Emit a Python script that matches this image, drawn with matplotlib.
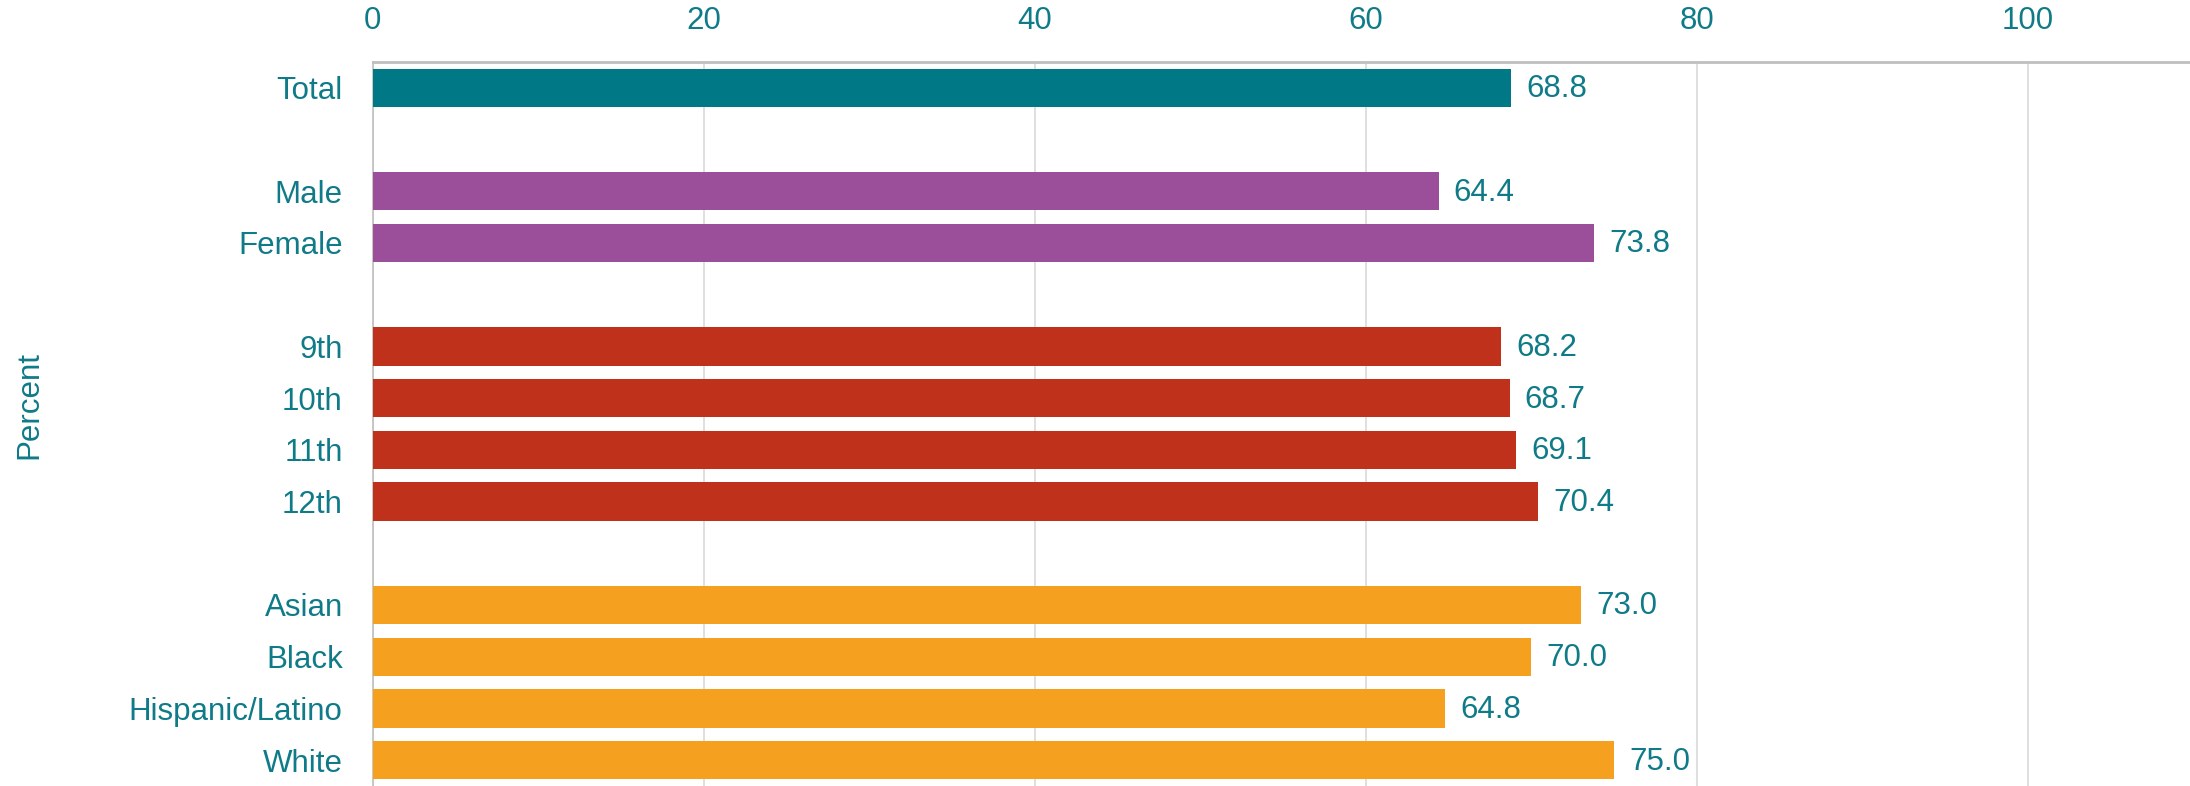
import matplotlib.pyplot as plt
import numpy as np

plt.rcParams['font.family'] = ['Liberation Sans', 'DejaVu Sans']

# data, blank rows separate the groups
labels = ["Total", "", "Male", "Female", "", "9th", "10th", "11th", "12th", "",
          "Asian", "Black", "Hispanic/Latino", "White"]
values = [68.8, None, 64.4, 73.8, None, 68.2, 68.7, 69.1, 70.4, None,
          73.0, 70.0, 64.8, 75.0]
groups = ["total", None, "sex", "sex", None, "grade", "grade", "grade", "grade", None,
          "race", "race", "race", "race"]

group_colors = {"total": "#007886", "sex": "#9B4F9B", "grade": "#C0311B", "race": "#F5A01E"}
text_color = "#0F7B88"

fig = plt.figure(figsize=(21.9, 7.86), dpi=100)
ax = fig.add_axes([372.7 / 2190, 0, (2190 - 372.7) / 2190, (786 - 62) / 786])

pos = np.arange(len(labels))
for i, (v, g) in enumerate(zip(values, groups)):
    if v is None:
        continue
    ax.barh(pos[i], v, height=0.74, color=group_colors[g], zorder=3)
    ax.annotate(f"{v:.1f}", xy=(v, pos[i]), xytext=(10.8, -1), textcoords="offset points",
                va="center", ha="left", fontsize=22.5, color=text_color)

ax.set_xlim(0, 109.8)
ax.set_ylim(13.5, -0.5)
ax.set_yticks(pos)
ax.set_yticklabels(labels)
ax.set_xticks([0, 20, 40, 60, 80, 100])
ax.xaxis.tick_top()
ax.tick_params(axis="x", length=0, pad=19, labelsize=22.5, labelcolor=text_color)
ax.tick_params(axis="y", length=0, pad=21.6, labelsize=22.5, labelcolor=text_color)

ax.grid(axis="x", color="#D9D9D9", linewidth=1.2, zorder=0)
for s in ["right", "bottom"]:
    ax.spines[s].set_visible(False)
ax.spines["top"].set_color("#BFBFBF")
ax.spines["top"].set_linewidth(2)
ax.spines["left"].set_color("#BFBFBF")
ax.spines["left"].set_linewidth(1.2)

fig.text(29 / 2190, 1 - 405 / 786, "Percent", rotation=90, ha="center", va="center",
         fontsize=22.5, color=text_color)

plt.savefig("out.png", dpi=100)
